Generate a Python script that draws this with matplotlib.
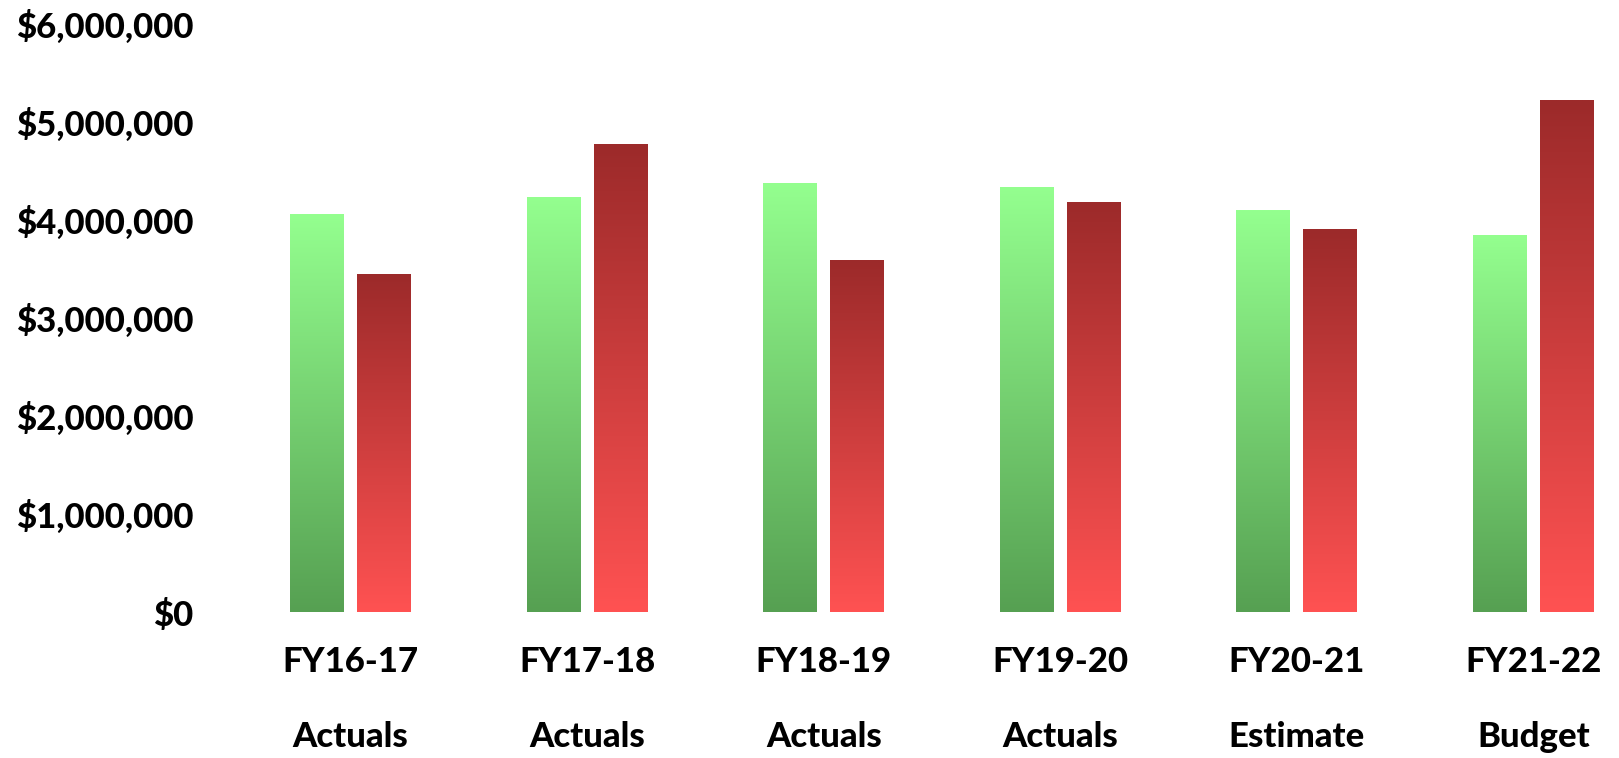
import matplotlib.pyplot as plt
import numpy as np
from matplotlib.colors import LinearSegmentedColormap
from matplotlib.ticker import FuncFormatter

years = ['FY16-17', 'FY17-18', 'FY18-19', 'FY19-20', 'FY20-21', 'FY21-22']
kinds = ['Actuals', 'Actuals', 'Actuals', 'Actuals', 'Estimate', 'Budget']
revenue = [4061000, 4235000, 4378000, 4337000, 4102000, 3847000]
expenses = [3449000, 4776000, 3592000, 4184000, 3908000, 5224000]

green = LinearSegmentedColormap.from_list('g', ['#56A052', '#94FF8F'])
red = LinearSegmentedColormap.from_list('r', ['#FF5252', '#9C2A2A'])

plt.rcParams['font.family'] = ['Lato', 'DejaVu Sans']
plt.rcParams['font.weight'] = 'black'

fig = plt.figure(figsize=(16.19, 7.58), dpi=100)
ax = fig.add_axes([230 / 1619, 146 / 758, 1380 / 1619, 588 / 758])

x = np.arange(len(years))
w = 0.228
off = 0.1416
grad = np.linspace(0, 1, 256).reshape(-1, 1)


def gradient_bars(xs, vals, cmap):
  bars = ax.bar(xs, vals, width=w, color='none', edgecolor='none')
  for b in bars:
    x0, y0 = b.get_x(), b.get_y()
    im = ax.imshow(grad, cmap=cmap, origin='lower', aspect='auto',
                   extent=(x0, x0 + b.get_width(), y0, y0 + b.get_height()),
                   zorder=2)
    im.set_clip_path(b)


gradient_bars(x - off, revenue, green)
gradient_bars(x + off, expenses, red)

ax.set_xlim((230 - 350.5) / 236.6, (1610 - 350.5) / 236.6)
ax.set_ylim(0, 6000000)
ax.set_yticks(range(0, 6000001, 1000000))
ax.yaxis.set_major_formatter(FuncFormatter(lambda v, p: f'${v:,.0f}'))
ax.tick_params(axis='y', length=0, pad=26.5, labelsize=25)
ax.set_xticks([])
for s in ax.spines.values():
  s.set_visible(False)

for i in x:
  ax.text(i, -0.085, years[i], transform=ax.get_xaxis_transform(),
          ha='center', va='center', fontsize=25)
  ax.text(i, -0.2126, kinds[i], transform=ax.get_xaxis_transform(),
          ha='center', va='center', fontsize=25)

plt.savefig('out.png')
